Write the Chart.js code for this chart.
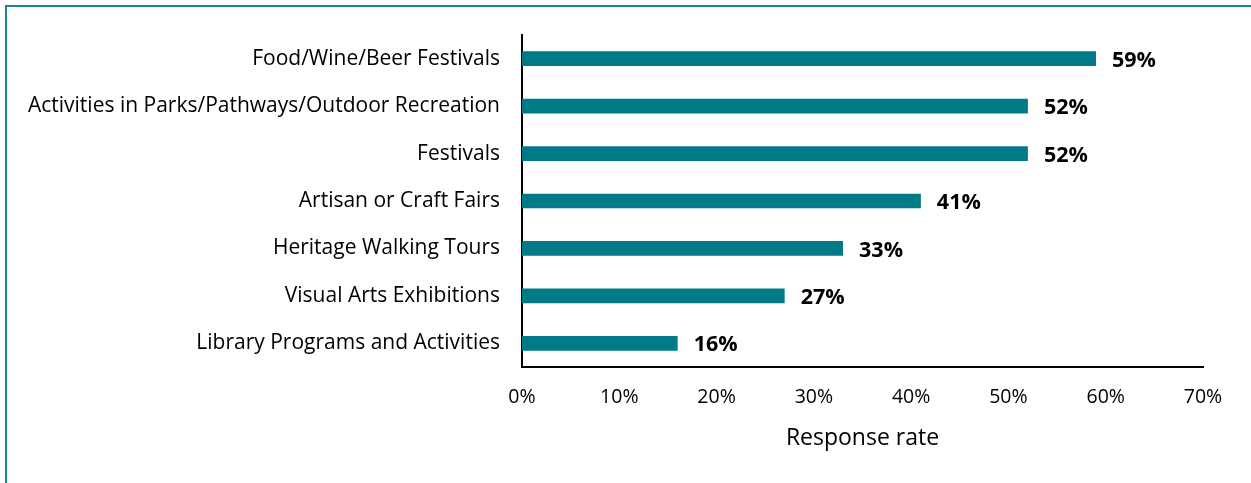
<!DOCTYPE html>
<html>
<head>
<meta charset="utf-8">
<script src="https://cdn.jsdelivr.net/npm/chart.js@4"></script>
<style>
  html, body { margin: 0; padding: 0; background: #fff; }
  #frame {
    position: absolute; left: 5px; top: 5px; width: 1300px; height: 520px;
    border: 2px solid #1a8594; box-sizing: border-box;
  }
  #wrap { position: absolute; left: 0; top: 0; width: 1251px; height: 483px; }
</style>
</head>
<body>
<div id="frame"></div>
<div id="wrap"><canvas id="chart" width="1251" height="483"></canvas></div>
<script>
const categories = [
  'Food/Wine/Beer Festivals',
  'Activities in Parks/Pathways/Outdoor Recreation',
  'Festivals',
  'Artisan or Craft Fairs',
  'Heritage Walking Tours',
  'Visual Arts Exhibitions',
  'Library Programs and Activities'
];
const responseRates = [59, 52, 52, 41, 33, 27, 16];
const xTicks = [0, 10, 20, 30, 40, 50, 60, 70];

const FONT = '"Open Sans", Lato, sans-serif';
const BAR = '#007a87';

// value labels at the end of each bar
const valueLabels = {
  id: 'valueLabels',
  afterDatasetsDraw(chart){
    const ctx = chart.ctx;
    const meta = chart.getDatasetMeta(0);
    ctx.save();
    ctx.font = 'bold 21.5px ' + FONT;
    ctx.fillStyle = '#000';
    ctx.textAlign = 'left';
    ctx.textBaseline = 'middle';
    meta.data.forEach((bar, i) => {
      ctx.fillText(responseRates[i] + '%', bar.x + 16, bar.y + 2);
    });
    ctx.restore();
  }
};

new Chart(document.getElementById('chart').getContext('2d'), {
  type: 'bar',
  data: {
    labels: categories,
    datasets: [{
      data: responseRates,
      backgroundColor: BAR,
      barPercentage: 0.62,
      categoryPercentage: 0.5
    }]
  },
  options: {
    indexAxis: 'y',
    responsive: false,
    animation: false,
    layout: { padding: { left: 0, right: 48, top: 35, bottom: 0 } },
    plugins: { legend: { display: false }, tooltip: { enabled: false } },
    scales: {
      x: {
        min: 0, max: 70,
        afterBuildTicks(scale){ scale.ticks = xTicks.map(v => ({ value: v })); },
        afterFit(scale){ scale.height = 116; },
        grid: { display: false, drawTicks: false },
        border: { display: true, color: '#000', width: 2 },
        ticks: {
          padding: 19,
          color: '#000',
          font: { family: FONT, size: 19.5 },
          callback: v => v + '%'
        },
        title: {
          display: true,
          text: 'Response rate',
          color: '#000',
          font: { family: FONT, size: 23 },
          padding: { top: 10, bottom: 31 }
        }
      },
      y: {
        afterFit(scale){ scale.width = 522; },
        grid: { display: false, drawTicks: false },
        border: { display: true, color: '#000', width: 2 },
        ticks: {
          padding: 22,
          color: '#000',
          font: { family: FONT, size: 21 }
        }
      }
    }
  },
  plugins: [valueLabels]
});
</script>
</body>
</html>
